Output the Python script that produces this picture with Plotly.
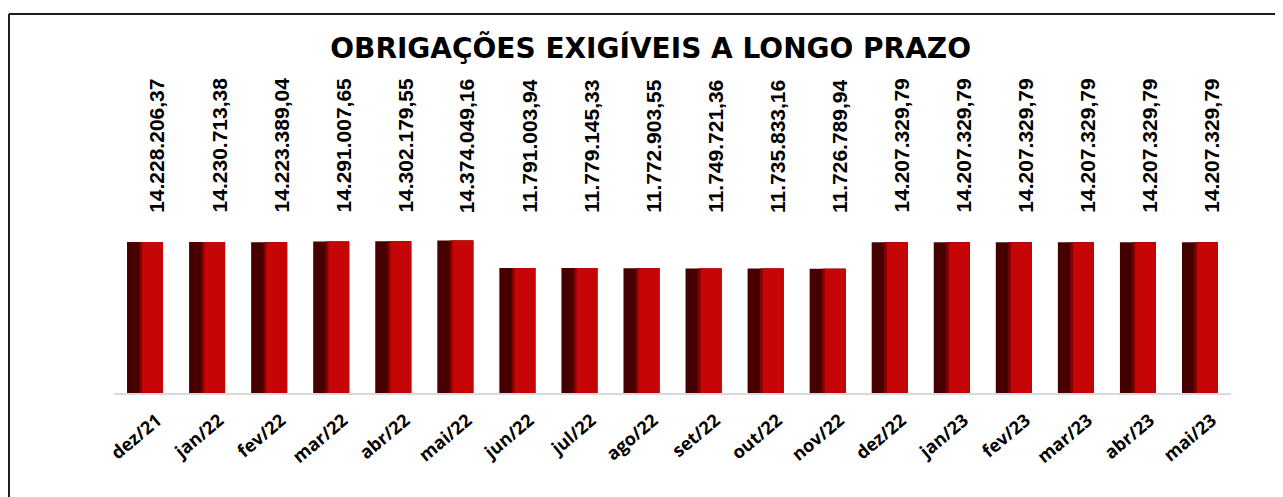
import plotly.graph_objects as go

# monthly balance of long-term liabilities (R$)
months = ["dez/21", "jan/22", "fev/22", "mar/22", "abr/22", "mai/22",
          "jun/22", "jul/22", "ago/22", "set/22", "out/22", "nov/22",
          "dez/22", "jan/23", "fev/23", "mar/23", "abr/23", "mai/23"]
values = [14228206.37, 14230713.38, 14223389.04, 14291007.65, 14302179.55, 14374049.16,
          11791003.94, 11779145.33, 11772903.55, 11749721.36, 11735833.16, 11726789.94,
          14207329.79, 14207329.79, 14207329.79, 14207329.79, 14207329.79, 14207329.79]


def br_number(v):
    # 14228206.37 -> "14.228.206,37"
    s = f"{v:,.2f}"
    return s.replace(",", "#").replace(".", ",").replace("#", ".")


labels = [br_number(v) for v in values]

fig = go.Figure()

# fake cylinder look: dark body, dark-red shading, bright red face
fig.add_trace(go.Bar(x=months, y=values, width=0.58, offset=-0.29,
                     marker=dict(color="#460000", line=dict(width=0)), hoverinfo="skip"))
fig.add_trace(go.Bar(x=months, y=values, width=0.38, offset=-0.09,
                     marker=dict(color="#850202", line=dict(width=0)), hoverinfo="skip"))
fig.add_trace(go.Bar(x=months, y=values, width=0.336, offset=-0.046,
                     marker=dict(color="#c60606", line=dict(width=0)),
                     hovertemplate="%{x}: %{y:,.2f}<extra></extra>"))

for m, lab in zip(months, labels):
    fig.add_annotation(x=m, y=16.8e6, xref="x", yref="y", text=lab, textangle=-90,
                       showarrow=False, xanchor="center", yanchor="bottom", xshift=12,
                       font=dict(family="Liberation Sans Narrow, Arial Narrow, sans-serif",
                                 size=21, color="#000000", weight="bold"))

# chart frame (right and bottom edges run off the picture)
frame = dict(type="line", xref="paper", yref="paper", line=dict(color="#1e1e1e", width=2))
fig.add_shape(frame, x0=-0.094, x1=1.06, y0=1.138, y1=1.138)
fig.add_shape(frame, x0=-0.094, x1=-0.094, y0=1.138, y1=-0.4)

# page body has an 8px margin, so the figure is 8px smaller than the window
fig.update_layout(
    width=1275, height=489,
    barmode="overlay",
    showlegend=False,
    paper_bgcolor="#ffffff",
    plot_bgcolor="#ffffff",
    margin=dict(l=106, r=52, t=52, b=104),
    title=dict(text="OBRIGAÇÕES EXIGÍVEIS A LONGO PRAZO", x=0.504, xanchor="center",
               y=0.918, yanchor="middle",
               font=dict(family="DejaVu Sans, sans-serif", size=28, color="#000000", weight="bold")),
    xaxis=dict(range=[-0.5, 17.5], showgrid=False, zeroline=False,
               showline=True, linecolor="#d9d9d9", linewidth=2,
               ticks="", tickangle=-40, ticklabelstandoff=8, ticklabelshift=12,
               tickfont=dict(family="Open Sans, sans-serif", size=18, color="#000000", weight="bold")),
    yaxis=dict(range=[0, 31.4e6], visible=False, showgrid=False, zeroline=False),
)

fig.write_html("out.html")
